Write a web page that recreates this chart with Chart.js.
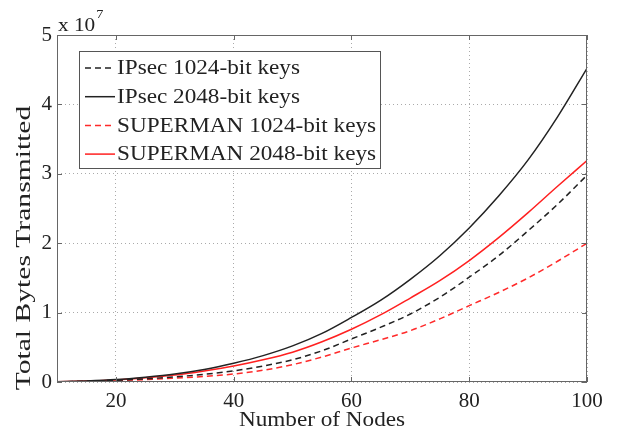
<!doctype html>
<html lang="en">
  <head>
    <meta charset="utf-8">
    <title>Total Bytes Transmitted</title>
    <script src="https://cdn.jsdelivr.net/npm/chart.js@4.4.1/dist/chart.umd.min.js"></script>
    <style>
        html, body { margin: 0; padding: 0; background: #fff; }
        #wrap { width: 624px; height: 435px; }
    </style>
  </head>
  <body>
    <div id="wrap"><canvas id="bytes-chart" width="624" height="435"></canvas></div>

    <script>
        // number of nodes
        const nodes = [10, 15, 20, 25, 30, 35, 40, 45, 50, 55, 60, 65, 70, 75, 80, 85, 90, 95, 100]
        // total bytes transmitted, in units of 10^7
        const ipsec1024 = [0.002, 0.01, 0.025, 0.045, 0.075, 0.11, 0.16, 0.23, 0.32, 0.45, 0.62, 0.79, 0.98, 1.22, 1.51, 1.82, 2.18, 2.56, 2.98]
        const ipsec2048 = [0.003, 0.015, 0.035, 0.07, 0.115, 0.18, 0.27, 0.38, 0.52, 0.70, 0.93, 1.18, 1.48, 1.82, 2.22, 2.68, 3.2, 3.82, 4.52]
        const superman1024 = [0.002, 0.008, 0.02, 0.035, 0.055, 0.08, 0.115, 0.17, 0.25, 0.36, 0.49, 0.61, 0.74, 0.91, 1.10, 1.29, 1.50, 1.74, 2.00]
        const superman2048 = [0.003, 0.013, 0.03, 0.06, 0.10, 0.16, 0.23, 0.32, 0.43, 0.58, 0.76, 0.97, 1.21, 1.46, 1.75, 2.08, 2.44, 2.82, 3.19]
        const xTicks = [20, 40, 60, 80, 100]
        const yTicks = [0, 1, 2, 3, 4, 5]
        const exponent = 7
        const xTitle = 'Number of Nodes'
        const yTitle = 'Total Bytes Transmitted'

        const serif = "'Liberation Serif', 'Times New Roman', serif"

        function series(values) {
            return values.map((v, i) => ({ x: nodes[i], y: v }))
        }

        // text drawn a little wider than the font, like the scanned figure
        function stretchedText(ctx, text, x, y, size, sx, rot) {
            ctx.save()
            ctx.translate(x, y)
            if (rot) ctx.rotate(rot)
            ctx.scale(sx, 1)
            ctx.font = size + 'px ' + serif
            ctx.fillText(text, 0, 0)
            ctx.restore()
        }

        // box around the plot, inward tick marks, titles, exponent label and legend
        const matlabLook = {
            id: 'matlabLook',
            afterDraw(chart) {
                const ctx = chart.ctx
                const a = chart.chartArea
                const xs = chart.scales.x
                const ys = chart.scales.y
                ctx.save()
                ctx.strokeStyle = '#666'
                ctx.lineWidth = 1
                ctx.setLineDash([])
                ctx.strokeRect(a.left + 0.5, a.top + 0.5, a.right - a.left - 1, a.bottom - a.top - 1)

                ctx.beginPath()
                xTicks.forEach(t => {
                    const px = Math.round(xs.getPixelForValue(t)) + 0.5
                    ctx.moveTo(px, a.bottom); ctx.lineTo(px, a.bottom - 5)
                    ctx.moveTo(px, a.top); ctx.lineTo(px, a.top + 5)
                })
                yTicks.forEach(t => {
                    const py = Math.round(ys.getPixelForValue(t)) + 0.5
                    ctx.moveTo(a.left, py); ctx.lineTo(a.left + 5, py)
                    ctx.moveTo(a.right, py); ctx.lineTo(a.right - 5, py)
                })
                ctx.stroke()

                ctx.fillStyle = '#222'

                // axis titles
                ctx.textAlign = 'center'
                ctx.textBaseline = 'middle'
                stretchedText(ctx, xTitle, (a.left + a.right) / 2, 421, 20, 1.16, 0)
                stretchedText(ctx, yTitle, 25, 248, 20, 1.48, -Math.PI / 2)

                // exponent
                ctx.textBaseline = 'alphabetic'
                ctx.textAlign = 'left'
                stretchedText(ctx, 'x 10', a.left + 1, a.top - 4, 19, 1.12, 0)
                ctx.font = '19px ' + serif
                const w = ctx.measureText('x 10').width * 1.12
                stretchedText(ctx, String(exponent), a.left + 2 + w, a.top - 17, 13, 1.1, 0)

                // legend
                const box = { left: 79, top: 51, width: 301, height: 117 }
                ctx.fillStyle = '#fff'
                ctx.fillRect(box.left, box.top, box.width, box.height)
                ctx.strokeStyle = '#555'
                ctx.lineWidth = 1
                ctx.strokeRect(box.left + 0.5, box.top + 0.5, box.width, box.height)
                ctx.textBaseline = 'middle'
                chart.data.datasets.forEach((ds, i) => {
                    const y = box.top + 17 + i * 28.7
                    ctx.beginPath()
                    ctx.strokeStyle = ds.borderColor
                    ctx.lineWidth = ds.borderWidth
                    ctx.setLineDash(ds.borderDash || [])
                    ctx.moveTo(box.left + 6, y)
                    ctx.lineTo(box.left + 36, y)
                    ctx.stroke()
                    ctx.setLineDash([])
                    ctx.fillStyle = '#222'
                    stretchedText(ctx, ds.label, box.left + 38, y + 1, 20, 1.16, 0)
                })
                ctx.restore()
            }
        }

        const data = {
            datasets: [{
                label: 'IPsec 1024-bit keys',
                data: series(ipsec1024),
                borderColor: '#222',
                borderWidth: 1.5,
                borderDash: [6, 4],
            }, {
                label: 'IPsec 2048-bit keys',
                data: series(ipsec2048),
                borderColor: '#222',
                borderWidth: 1.5,
            }, {
                label: 'SUPERMAN 1024-bit keys',
                data: series(superman1024),
                borderColor: '#ff2a2a',
                borderWidth: 1.5,
                borderDash: [6, 4],
            }, {
                label: 'SUPERMAN 2048-bit keys',
                data: series(superman2048),
                borderColor: '#ff2020',
                borderWidth: 1.5,
            }]
        }

        const options = {
            responsive: false,
            animation: false,
            layout: { padding: { left: 0, top: 35, right: 37, bottom: 0 } },
            elements: {
                point: { radius: 0 },
                line: { cubicInterpolationMode: 'monotone', fill: false }
            },
            plugins: {
                legend: { display: false },
                tooltip: { enabled: false },
                title: { display: false }
            },
            scales: {
                x: {
                    type: 'linear',
                    min: 10,
                    max: 100,
                    afterBuildTicks: scale => { scale.ticks = xTicks.map(v => ({ value: v })) },
                    afterFit: scale => { scale.height = 53 },
                    grid: { color: '#aaa', drawTicks: false },
                    border: { display: false, dash: [1, 3] },
                    ticks: { color: '#222', padding: 7, font: { family: serif, size: 21 } },
                    title: { display: false }
                },
                y: {
                    type: 'linear',
                    min: 0,
                    max: 5,
                    afterBuildTicks: scale => { scale.ticks = yTicks.map(v => ({ value: v })) },
                    afterFit: scale => { scale.width = 57 },
                    grid: { color: '#aaa', drawTicks: false },
                    border: { display: false, dash: [1, 3] },
                    ticks: { color: '#222', padding: 5, font: { family: serif, size: 21 } },
                    title: { display: false }
                }
            }
        }

        new Chart(document.getElementById('bytes-chart'), {
            type: 'line',
            data: data,
            options: options,
            plugins: [matlabLook]
        })
    </script>
  </body>
</html>
